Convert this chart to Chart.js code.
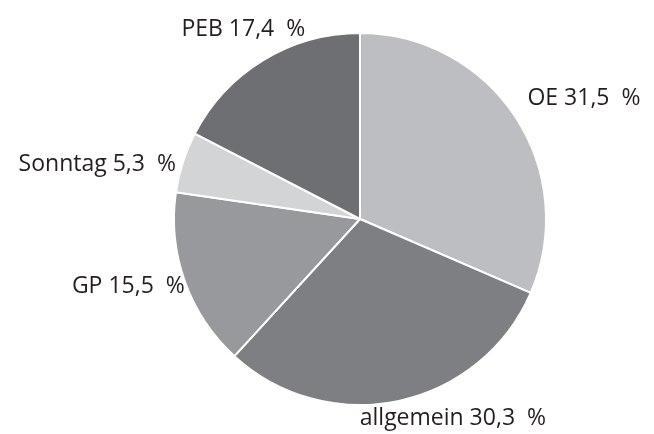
<!DOCTYPE html>
<html>
<head>
<meta charset="utf-8">
<script src="https://cdn.jsdelivr.net/npm/chart.js@4"></script>
<style>
  html, body { margin: 0; padding: 0; background: #fff; }
  #wrap { width: 654px; height: 434px; }
</style>
</head>
<body>
<div id="wrap"><canvas id="myPieChart"></canvas></div>
<script>
    const labels = ['OE', 'allgemein', 'GP', 'Sonntag', 'PEB'];
    const values = [31.5, 30.3, 15.5, 5.3, 17.4];
    const colors = ['#bdbec1', '#7e7f83', '#98999c', '#d3d4d6', '#6e6f73'];
    // label placement relative to the arc edge midpoint: [dx, dy, align]
    const labelPos = [
      [12, -18, 'left'],
      [54, 18, 'center'],
      [0, 5, 'right'],
      [-7, 2, 'right'],
      [-20, -31, 'center']
    ];

    const outerLabels = {
      id: 'outerLabels',
      afterDraw(chart) {
        const ctx = chart.ctx;
        const arcs = chart.getDatasetMeta(0).data;
        ctx.save();
        ctx.font = '23px "Open Sans"';
        ctx.fillStyle = '#231f20';
        ctx.textBaseline = 'middle';
        arcs.forEach((arc, i) => {
          const mid = (arc.startAngle + arc.endAngle) / 2;
          const x = arc.x + Math.cos(mid) * arc.outerRadius + labelPos[i][0];
          const y = arc.y + Math.sin(mid) * arc.outerRadius + labelPos[i][1];
          ctx.textAlign = labelPos[i][2];
          const txt = labels[i] + ' ' + values[i].toFixed(1).replace('.', ',') + '  %';
          ctx.fillText(txt, x, y);
        });
        ctx.restore();
      }
    };

    const config = {
      type: 'pie',
      data: {
        labels: labels,
        datasets: [{
          data: values,
          backgroundColor: colors,
          borderColor: '#ffffff',
          borderWidth: 2
        }]
      },
      options: {
        responsive: true,
        maintainAspectRatio: false,
        animation: false,
        layout: { padding: { left: 173, right: 107, top: 32, bottom: 28 } },
        plugins: {
          legend: { display: false },
          tooltip: { enabled: false }
        }
      },
      plugins: [outerLabels]
    };

    const myChart = new Chart(document.getElementById('myPieChart'), config);
</script>
</body>
</html>
